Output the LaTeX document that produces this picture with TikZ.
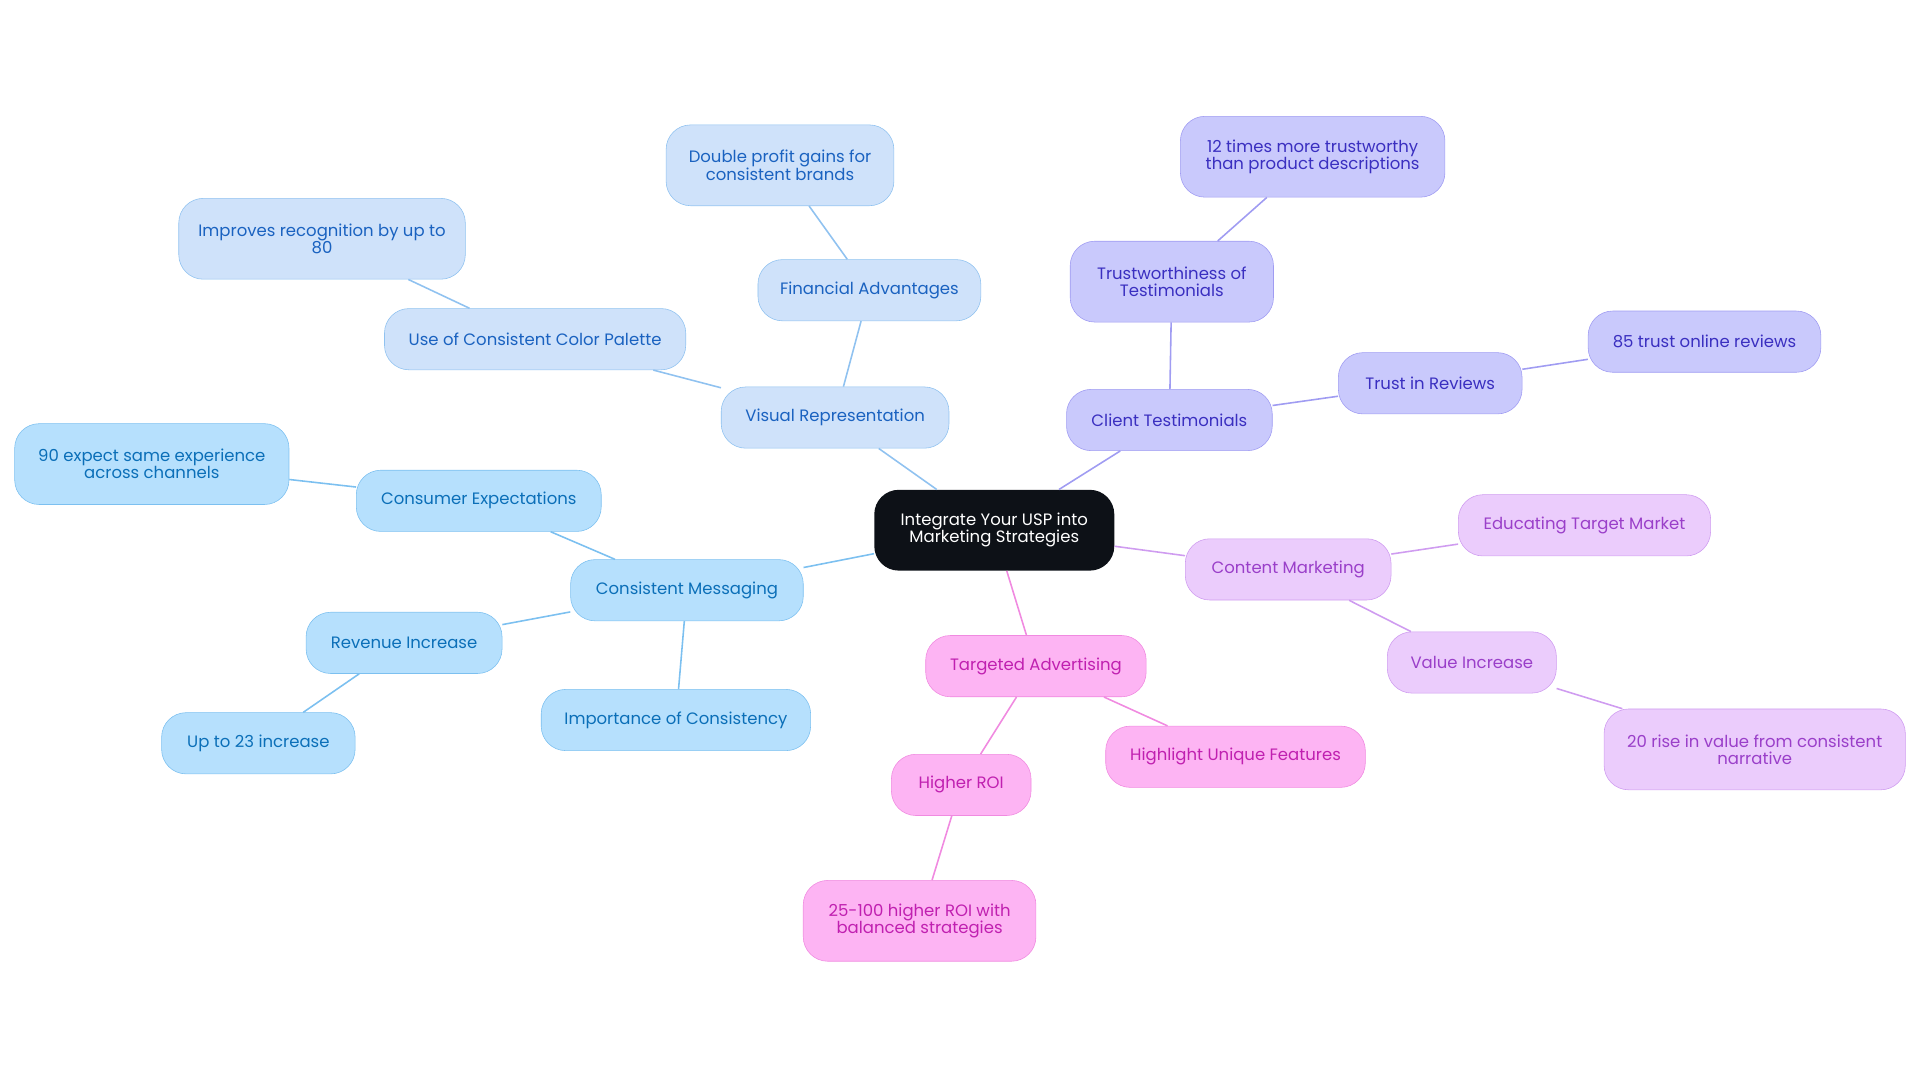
\documentclass[tikz,border=0pt]{standalone}
\usepackage{fontspec}
\setmainfont{Poppins}
\usepackage{tikz}
\definecolor{ctr}{HTML}{0D1117}
\definecolor{vfill}{HTML}{CFE2FA}\definecolor{vline}{HTML}{90C2F0}\definecolor{vtext}{HTML}{1A62C0}
\definecolor{mfill}{HTML}{B6E0FD}\definecolor{mline}{HTML}{7CC0F0}\definecolor{mtext}{HTML}{0B6FB8}
\definecolor{tfill}{HTML}{C9C9FC}\definecolor{tline}{HTML}{A09CF2}\definecolor{ttext}{HTML}{3A2FC0}
\definecolor{cfill}{HTML}{EBCCFC}\definecolor{cline}{HTML}{CF9CF0}\definecolor{ctext}{HTML}{9A3FC9}
\definecolor{afill}{HTML}{FDB4F3}\definecolor{aline}{HTML}{F08AE0}\definecolor{atext}{HTML}{C020B0}
\tikzset{
  box/.style={rounded corners=0.6cm, align=center, inner sep=2pt,
    font=\fontsize{11.5}{12}\selectfont, minimum height=1.5cm},
  tall/.style={minimum height=1.98cm},
  vbox/.style={box, fill=vfill, draw=vline, text=vtext},
  mbox/.style={box, fill=mfill, draw=mline, text=mtext},
  tbox/.style={box, fill=tfill, draw=tline, text=ttext},
  cbox/.style={box, fill=cfill, draw=cline, text=ctext},
  abox/.style={box, fill=afill, draw=aline, text=atext},
  link/.style={line width=1.1pt}
}
\begin{document}
\begin{tikzpicture}[x=0.03cm, y=-0.03cm]
    \useasboundingbox (0,0) rectangle (1568,884);

    % centre
    \node[box, tall, fill=ctr, text=white, minimum width=5.88cm] (usp) at (812,433) {Integrate Your USP into\\Marketing Strategies};

    % visual branch
    \node[vbox, minimum width=5.58cm] (visual) at (682,341) {Visual Representation};
    \node[vbox, minimum width=5.46cm] (finance) at (710,237) {Financial Advantages};
    \node[vbox, tall, minimum width=5.58cm] (double) at (637,135) {Double profit gains for\\consistent brands};
    \node[vbox, minimum width=7.38cm] (palette) at (437,277) {Use of Consistent Color Palette};
    \node[vbox, tall, minimum width=7.02cm] (recog) at (263,195) {Improves recognition by up to\\80};

    % messaging branch
    \node[mbox, minimum width=5.7cm] (messaging) at (561,482) {Consistent Messaging};
    \node[mbox, minimum width=6cm] (expect) at (391,409) {Consumer Expectations};
    \node[mbox, tall, minimum width=6.72cm] (ninety) at (124,379) {90 expect same experience\\across channels};
    \node[mbox, minimum width=4.8cm] (revenue) at (330,525) {Revenue Increase};
    \node[mbox, minimum width=4.74cm] (upto) at (211,607) {Up to 23 increase};
    \node[mbox, minimum width=6.6cm] (importance) at (552,588) {Importance of Consistency};

    % testimonials branch
    \node[tbox, minimum width=5.04cm] (client) at (955,343) {Client Testimonials};
    \node[tbox, tall, minimum width=4.98cm] (trustw) at (957,230) {Trustworthiness of\\Testimonials};
    \node[tbox, tall, minimum width=6.48cm] (twelve) at (1072,128) {12 times more trustworthy\\than product descriptions};
    \node[tbox, minimum width=4.5cm] (reviews) at (1168,313) {Trust in Reviews};
    \node[tbox, minimum width=5.7cm] (online) at (1392,279) {85 trust online reviews};

    % content branch
    \node[cbox, minimum width=5.04cm] (content) at (1052,465) {Content Marketing};
    \node[cbox, minimum width=6.18cm] (educate) at (1294,429) {Educating Target Market};
    \node[cbox, minimum width=4.14cm] (value) at (1202,541) {Value Increase};
    \node[cbox, tall, minimum width=7.38cm] (twenty) at (1433,612) {20 rise in value from consistent\\narrative};

    % advertising branch
    \node[abox, minimum width=5.4cm] (adv) at (846,544) {Targeted Advertising};
    \node[abox, minimum width=6.36cm] (unique) at (1009,618) {Highlight Unique Features};
    \node[abox, minimum width=3.42cm] (roi) at (785,641) {Higher ROI};
    \node[abox, tall, minimum width=5.7cm] (roiq) at (751,752) {25-100 higher ROI with\\balanced strategies};

    \begin{scope}[on background layer/.style={}]
    \end{scope}
    \draw[link, vline] (usp) -- (visual) (visual) -- (finance) (finance) -- (double)
        (visual) -- (palette) (palette) -- (recog);
    \draw[link, mline] (usp) -- (messaging) (messaging) -- (expect) (expect) -- (ninety)
        (messaging) -- (revenue) (revenue) -- (upto) (messaging) -- (importance);
    \draw[link, tline] (usp) -- (client) (client) -- (trustw) (trustw) -- (twelve)
        (client) -- (reviews) (reviews) -- (online);
    \draw[link, cline] (usp) -- (content) (content) -- (educate) (content) -- (value)
        (value) -- (twenty);
    \draw[link, aline] (usp) -- (adv) (adv) -- (unique) (adv) -- (roi) (roi) -- (roiq);
\end{tikzpicture}
\end{document}
